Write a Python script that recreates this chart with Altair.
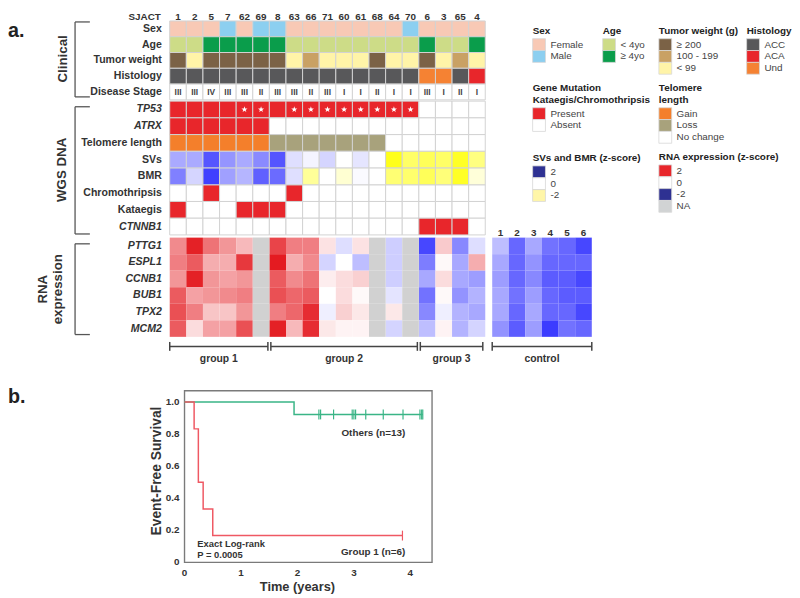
import altair as alt
import pandas as pd

# ===================== data =====================
samples = ["1", "2", "5", "7", "62", "69", "8", "63", "66", "71", "60", "61", "68", "64", "70", "6", "3", "65", "4"]
controls = ["1", "2", "3", "4", "5", "6"]

sex = ["Female", "Female", "Female", "Male", "Female", "Male", "Male", "Female", "Female", "Female",
       "Female", "Female", "Female", "Female", "Male", "Female", "Female", "Female", "Female"]
age = ["< 4yo", "< 4yo", "≥ 4yo", "≥ 4yo", "≥ 4yo", "≥ 4yo", "≥ 4yo", "< 4yo", "< 4yo", "< 4yo",
       "< 4yo", "< 4yo", "< 4yo", "< 4yo", "< 4yo", "≥ 4yo", "< 4yo", "< 4yo", "≥ 4yo"]
tumor_weight = ["≥ 200", "< 99", "≥ 200", "≥ 200", "≥ 200", "≥ 200", "≥ 200", "< 99", "100 - 199", "< 99",
                "< 99", "< 99", "≥ 200", "< 99", "< 99", "≥ 200", "< 99", "100 - 199", "< 99"]
histology = ["ACC", "ACC", "ACC", "ACC", "ACC", "ACC", "ACC", "ACC", "ACC", "ACC",
             "ACC", "ACC", "ACC", "ACC", "ACC", "Und", "Und", "ACC", "ACA"]
disease_stage = ["III", "III", "IV", "III", "III", "II", "III", "III", "II", "III",
                 "I", "I", "II", "I", "I", "III", "I", "II", "I"]

tp53 = [1, 1, 1, 1, 1, 1, 1, 1, 1, 1, 1, 1, 1, 1, 1, 0, 0, 0, 0]
tp53_star = [0, 0, 0, 0, 1, 1, 0, 1, 1, 1, 1, 1, 1, 1, 1, 0, 0, 0, 0]
atrx = [1, 1, 1, 1, 1, 1, 0, 0, 0, 0, 0, 0, 0, 0, 0, 0, 0, 0, 0]
telomere = ["Gain", "Gain", "Gain", "Gain", "Gain", "Gain", "Loss", "Loss", "Loss", "Loss",
            "Loss", "Loss", "Loss", "No change", "No change", "No change", "No change", "No change", "No change"]
svs_z = [0.8, 0.8, 1.6, 1.0, 0.8, 1.1, 1.6, 0.3, 0.1, 0.4, 0.0, 0.25, 0.0, -1.8, -1.2, -1.3, -1.2, -1.7, -1.0]
bmr_z = [1.2, 0.4, 1.8, 0.9, 0.7, 1.5, 1.4, 0.3, -0.8, 0.0, -0.35, 0.05, 0.0, -1.1, -1.15, -1.3, -1.05, -1.7, -0.3]
chromothripsis = [0, 0, 1, 0, 0, 0, 0, 1, 0, 0, 0, 0, 0, 0, 0, 0, 0, 0, 0]
kataegis = [1, 0, 0, 0, 1, 1, 1, 0, 0, 0, 0, 0, 0, 0, 0, 0, 0, 0, 0]
ctnnb1 = [0, 0, 0, 0, 0, 0, 0, 0, 0, 0, 0, 0, 0, 0, 0, 1, 1, 1, 0]

rna_genes = ["PTTG1", "ESPL1", "CCNB1", "BUB1", "TPX2", "MCM2"]
rna_PTTG1 = [1.0, 1.9, 1.2, 0.9, 0.6, None, 1.6, 1.1, 1.1, 0.25, -0.3, 0.25, None, -0.45, None, -1.7, 0.45, -1.1, -0.3]
rna_ESPL1 = [1.1, 1.4, 0.7, 0.7, 1.7, None, 1.95, 0.7, 1.0, -0.4, 0.0, -0.6, None, -0.45, None, -1.2, 0.05, -0.8, 0.7]
rna_CCNB1 = [0.9, 1.9, 0.9, 0.8, 0.9, None, 1.4, 1.0, 1.2, 0.15, 0.3, 0.4, None, -0.45, None, -0.8, 0.3, -0.8, -0.9]
rna_BUB1 = [1.4, 0.8, 0.9, 1.0, 1.1, None, 1.5, 1.3, 1.4, 0.0, 0.3, 0.05, None, -0.25, None, -1.3, 0.05, -1.0, -0.7]
rna_TPX2 = [1.5, 1.1, 0.5, 0.5, 0.9, None, 1.1, 1.3, 1.8, -0.15, 0.4, 0.2, None, 0.2, None, -1.1, -0.15, -0.7, -0.8]
rna_MCM2 = [1.4, 0.3, 0.8, 0.8, 1.5, None, 1.9, 0.6, 1.8, 0.2, 0.1, 0.1, None, -0.4, None, -0.6, 0.1, -0.7, -0.4]
ctrl_PTTG1 = [-0.6, -1.4, -0.8, -1.3, -1.4, -1.7]
ctrl_ESPL1 = [-0.8, -1.4, -1.0, -1.4, -1.4, -1.4]
ctrl_CCNB1 = [-0.9, -1.4, -1.1, -1.5, -1.5, -1.7]
ctrl_BUB1 = [-0.8, -1.3, -0.9, -1.4, -1.5, -1.5]
ctrl_TPX2 = [-0.8, -1.4, -0.8, -1.4, -1.4, -1.7]
ctrl_MCM2 = [-1.0, -1.5, -0.9, -1.8, -1.3, -1.4]

group_names = ["group 1", "group 2", "group 3"]
group_sizes = [6, 9, 4]

# Kaplan-Meier (years, event-free survival)
km_group1_t = [0.0, 0.17, 0.245, 0.33, 0.5, 3.86]
km_group1_s = [1.0, 0.833, 0.5, 0.333, 0.167, 0.167]
km_others_t = [0.0, 1.94, 4.22]
km_others_s = [1.0, 0.923, 0.923]
censor_others_t = [2.38, 2.41, 2.64, 2.97, 3.0, 3.03, 3.21, 3.52, 3.87, 4.17, 4.2, 4.22]
censor_group1_t = [3.86]
km_x_ticks = [0, 1, 2, 3, 4]
km_y_ticks = [0, 0.2, 0.4, 0.6, 0.8, 1.0]
km_y_labels = ["0", "0.2", "0.4", "0.6", "0.8", "1.0"]

# ===================== styles =====================
FONT = "Liberation Sans, Arial, Helvetica, sans-serif"
TXT = "#333333"
RED = "#e8262b"
NAVY = "#2e3192"
cat_domain = ["Female", "Male", "< 4yo", "≥ 4yo", "≥ 200", "100 - 199", "< 99", "ACC", "ACA", "Und",
              "Present", "Absent", "Gain", "Loss", "No change", "NA", "blank"]
cat_range = ["#f8c9b5", "#8ccff0", "#cddc87", "#0a9d4b", "#7b6246", "#c9a164", "#fff4a8", "#58585a", RED, "#f58233",
             RED, "#ffffff", "#f47f2b", "#a8a27c", "#ffffff", "#d1d1d1", "#ffffff"]
cat_color = dict(zip(cat_domain, cat_range))

# ===================== layout (page pixels) =====================
M = 8
W = 784
H_TOP = 372
H_BOT = 210
COL0, CW = 172.0, 16.84
CTRL0, CCW = 499.0, 16.83
CLIN_TOP, CLIN_H = 17.0, 16.0
WGS_TOP, WGS_H = 98.3, 16.96
RNA_TOP, RNA_H = 236.7, 16.77
LABEL_RIGHT = 164


def cx(p):
    return p - M


def cy(p):
    return p - M


xs = alt.Scale(domain=[0, W], nice=False, zero=False)
ys = alt.Scale(domain=[0, H_TOP], nice=False, zero=False, reverse=True)


def X(f="x"):
    return alt.X(f"{f}:Q", scale=xs, axis=None)


def Y(f="y"):
    return alt.Y(f"{f}:Q", scale=ys, axis=None)


def col_l(i):
    return COL0 + i * CW


def ctrl_l(j):
    return CTRL0 + j * CCW


cat_cells, z_cells, rna_cells, stage_txt, stars = [], [], [], [], []


def cell(i, top, h, **kw):
    d = dict(x=cx(col_l(i)), x2=cx(col_l(i + 1)), y=cy(top), y2=cy(top + h))
    d.update(kw)
    return d


clin_rows = [sex, age, tumor_weight, histology]
for r, vals in enumerate(clin_rows):
    for i, v in enumerate(vals):
        cat_cells.append(cell(i, CLIN_TOP + r * CLIN_H, CLIN_H, key=v))
for i, v in enumerate(disease_stage):
    top = CLIN_TOP + 4 * CLIN_H
    cat_cells.append(cell(i, top, CLIN_H, key="blank"))
    stage_txt.append(dict(x=cx(col_l(i) + CW / 2), y=cy(top + CLIN_H / 2), t=v))

wgs_rows = [("bin", tp53), ("bin", atrx), ("cat", telomere), ("z", svs_z), ("z", bmr_z),
            ("bin", chromothripsis), ("bin", kataegis), ("bin", ctnnb1)]
for r, (kind, vals) in enumerate(wgs_rows):
    top = WGS_TOP + r * WGS_H
    for i, v in enumerate(vals):
        if kind == "bin":
            cat_cells.append(cell(i, top, WGS_H, key="Present" if v else "Absent"))
        elif kind == "cat":
            cat_cells.append(cell(i, top, WGS_H, key=v))
        else:
            z_cells.append(cell(i, top, WGS_H, z=v))
for i, s in enumerate(tp53_star):
    if s:
        stars.append(dict(x=cx(col_l(i) + CW / 2), y=cy(WGS_TOP + WGS_H / 2)))

rna_sample_rows = [rna_PTTG1, rna_ESPL1, rna_CCNB1, rna_BUB1, rna_TPX2, rna_MCM2]
rna_ctrl_rows = [ctrl_PTTG1, ctrl_ESPL1, ctrl_CCNB1, ctrl_BUB1, ctrl_TPX2, ctrl_MCM2]
for r, vals in enumerate(rna_sample_rows):
    top = RNA_TOP + r * RNA_H
    for i, v in enumerate(vals):
        if v is None:
            cat_cells.append(cell(i, top, RNA_H, key="NA"))
        else:
            rna_cells.append(cell(i, top, RNA_H, z=v))
for r, vals in enumerate(rna_ctrl_rows):
    top = RNA_TOP + r * RNA_H
    for j, v in enumerate(vals):
        rna_cells.append(dict(x=cx(ctrl_l(j)), x2=cx(ctrl_l(j + 1)), y=cy(top), y2=cy(top + RNA_H), z=v))

na_cells = [c for c in cat_cells if c["key"] == "NA"]
grid_cells = [c for c in cat_cells if c["key"] != "NA"]

# ---------- row labels ----------
row_labels = []
for r, lab in enumerate(["Sex", "Age", "Tumor weight", "Histology", "Disease Stage"]):
    row_labels.append(dict(x=cx(LABEL_RIGHT), y=cy(CLIN_TOP + (r + 0.5) * CLIN_H), t=lab, it=False))
for r, (lab, it) in enumerate([("TP53", True), ("ATRX", True), ("Telomere length", False), ("SVs", False),
                               ("BMR", False), ("Chromothripsis", False), ("Kataegis", False), ("CTNNB1", True)]):
    row_labels.append(dict(x=cx(LABEL_RIGHT), y=cy(WGS_TOP + (r + 0.5) * WGS_H), t=lab, it=it))
for r, lab in enumerate(rna_genes):
    row_labels.append(dict(x=cx(LABEL_RIGHT), y=cy(RNA_TOP + (r + 0.5) * RNA_H), t=lab, it=True))
lab_df = pd.DataFrame(row_labels)

# ---------- headers ----------
HEAD_Y = 16.0
head = [dict(x=cx(LABEL_RIGHT - 1), y=cy(HEAD_Y), t="SJACT", a="right")]
for i, s in enumerate(samples):
    head.append(dict(x=cx(col_l(i) + CW / 2), y=cy(HEAD_Y), t=s, a="center"))
ctrl_head = [dict(x=cx(ctrl_l(j) + CCW / 2), y=cy(235.0), t=c) for j, c in enumerate(controls)]

# ---------- brackets & section labels ----------
BR_X, BR_X2 = 76, 91
brackets = [(CLIN_TOP + 1, 94), (104, 233), (243, 335)]
br_rules = []
for t0, t1 in brackets:
    br_rules.append(dict(x=cx(BR_X), x2=cx(BR_X), y=cy(t0), y2=cy(t1)))
    br_rules.append(dict(x=cx(BR_X), x2=cx(BR_X2), y=cy(t0), y2=cy(t0)))
    br_rules.append(dict(x=cx(BR_X), x2=cx(BR_X2), y=cy(t1), y2=cy(t1)))
sect = [dict(x=cx(64), y=cy(55.5), t="Clinical"), dict(x=cx(63), y=cy(168), t="WGS DNA"),
        dict(x=cx(44), y=cy(289), t="RNA"), dict(x=cx(58.5), y=cy(289), t="expression")]

# ---------- group bars ----------
GB_Y, CAP = 347.0, 4.5
gb = []
gl = []
start = 0
spans = []
for name, n in zip(group_names, group_sizes):
    a = col_l(start) + (0 if start == 0 else 1.5)
    b = col_l(start + n) - (2.5 if start + n == len(samples) else 1.5)
    spans.append((name, a, b))
    start += n
spans.append(("control", ctrl_l(0), ctrl_l(len(controls))))
for name, a, b in spans:
    gb.append(dict(x=cx(a), x2=cx(b), y=cy(GB_Y), y2=cy(GB_Y)))
    gb.append(dict(x=cx(a), x2=cx(a), y=cy(GB_Y - CAP), y2=cy(GB_Y + CAP)))
    gb.append(dict(x=cx(b), x2=cx(b), y=cy(GB_Y - CAP), y2=cy(GB_Y + CAP)))
    gl.append(dict(x=cx((a + b) / 2), y=cy(359.5), t=name))

# ---------- legends ----------
legend_specs = [
    (["Sex"], 540, 27, [("Female", cat_color["Female"]), ("Male", cat_color["Male"])]),
    (["Age"], 611, 27, [("< 4yo", cat_color["< 4yo"]), ("≥ 4yo", cat_color["≥ 4yo"])]),
    (["Tumor weight (g)"], 668, 27, [("≥ 200", cat_color["≥ 200"]), ("100 - 199", cat_color["100 - 199"]),
                                    ("< 99", cat_color["< 99"])]),
    (["Histology"], 757, 27, [("ACC", cat_color["ACC"]), ("ACA", cat_color["ACA"]), ("Und", cat_color["Und"])]),
    (["Gene Mutation", "Kataegis/Chromothripsis"], 540, 85, [("Present", RED), ("Absent", "#ffffff")]),
    (["Telomere", " length"], 668, 85, [("Gain", cat_color["Gain"]), ("Loss", cat_color["Loss"]),
                                        ("No change", "#ffffff")]),
    (["SVs and BMR (z-score)"], 540, 156, [("2", NAVY), ("0", "#ffffff"), ("-2", "#fff6a8")]),
    (["RNA expression (z-score)"], 668, 155, [("2", RED), ("0", "#ffffff"), ("-2", NAVY), ("NA", "#d1d3d4")]),
]
leg_sw, leg_title, leg_item = [], [], []
SW_W, SW_H = 13, 12
for titles, x0, y0, items in legend_specs:
    for k, t in enumerate(titles):
        leg_title.append(dict(x=cx(x0), y=cy(y0 + k * 12), t=t))
    top = y0 + (len(titles) - 1) * 12 + 8
    for j, (lab, col) in enumerate(items):
        leg_sw.append(dict(x=cx(x0), x2=cx(x0 + SW_W), y=cy(top + j * SW_H), y2=cy(top + (j + 1) * SW_H), c=col))
        leg_item.append(dict(x=cx(x0 + 18), y=cy(top + j * SW_H + SW_H / 2), t=lab))

STAR = "M0,-1L0.236,-0.324L0.951,-0.309L0.382,0.124L0.588,0.809L0,0.4L-0.588,0.809L-0.382,0.124L-0.951,-0.309L-0.236,-0.324Z"


def rect_enc(ch):
    return ch.encode(x=X("x"), x2=alt.X2("x2:Q"), y=Y("y"), y2=alt.Y2("y2:Q"))


layers = []
layers.append(rect_enc(alt.Chart(pd.DataFrame(grid_cells)).mark_rect(stroke="#d2d2d2", strokeWidth=1))
              .encode(color=alt.Color("key:N", scale=alt.Scale(domain=cat_domain, range=cat_range), legend=None)))
layers.append(rect_enc(alt.Chart(pd.DataFrame(z_cells)).mark_rect(stroke="#d2d2d2", strokeWidth=1))
              .encode(color=alt.Color("z:Q", scale=alt.Scale(domain=[-2, 0, 2], range=["#ffff00", "#ffffff", "#2b2bff"],
                                                             interpolate="rgb", clamp=True), legend=None)))
layers.append(rect_enc(alt.Chart(pd.DataFrame(rna_cells)).mark_rect())
              .encode(color=alt.Color("z:Q", scale=alt.Scale(domain=[-2, 0, 2], range=["#2626ff", "#ffffff", "#e3151b"],
                                                             interpolate="rgb", clamp=True), legend=None)))
layers.append(rect_enc(alt.Chart(pd.DataFrame(na_cells)).mark_rect(color="#d1d1d1")))
layers.append(alt.Chart(pd.DataFrame(stage_txt)).mark_text(font=FONT, fontSize=8.5, fontWeight="bold", color="#444")
              .encode(x=X(), y=Y(), text="t:N"))
layers.append(alt.Chart(pd.DataFrame(stars)).mark_point(shape=STAR, filled=True, color="#ffffff", opacity=1, size=42)
              .encode(x=X(), y=Y()))
layers.append(alt.Chart(lab_df[~lab_df["it"]]).mark_text(font=FONT, fontSize=10.7, fontWeight="bold", color=TXT,
                                                         align="right", baseline="middle")
              .encode(x=X(), y=Y(), text="t:N"))
layers.append(alt.Chart(lab_df[lab_df["it"]]).mark_text(font=FONT, fontSize=10.7, fontWeight="bold", fontStyle="italic",
                                                        color=TXT, align="right", baseline="middle")
              .encode(x=X(), y=Y(), text="t:N"))
hd = pd.DataFrame(head)
layers.append(alt.Chart(hd[hd["a"] == "right"]).mark_text(font=FONT, fontSize=10, fontWeight="bold", color=TXT,
                                                          align="right", baseline="alphabetic")
              .encode(x=X(), y=Y(), text="t:N"))
layers.append(alt.Chart(hd[hd["a"] == "center"]).mark_text(font=FONT, fontSize=10, fontWeight="bold", color=TXT,
                                                           align="center", baseline="alphabetic")
              .encode(x=X(), y=Y(), text="t:N"))
layers.append(alt.Chart(pd.DataFrame(ctrl_head)).mark_text(font=FONT, fontSize=10, fontWeight="bold", color=TXT,
                                                           align="center", baseline="alphabetic")
              .encode(x=X(), y=Y(), text="t:N"))
layers.append(alt.Chart(pd.DataFrame(br_rules)).mark_rule(color="#555555", strokeWidth=1.3)
              .encode(x=X(), x2=alt.X2("x2:Q"), y=Y(), y2=alt.Y2("y2:Q")))
layers.append(alt.Chart(pd.DataFrame(sect)).mark_text(font=FONT, fontSize=13.5, fontWeight="bold", color=TXT,
                                                      angle=270, align="center", baseline="middle")
              .encode(x=X(), y=Y(), text="t:N"))
layers.append(alt.Chart(pd.DataFrame(gb)).mark_rule(color="#444444", strokeWidth=1.5)
              .encode(x=X(), x2=alt.X2("x2:Q"), y=Y(), y2=alt.Y2("y2:Q")))
layers.append(alt.Chart(pd.DataFrame(gl)).mark_text(font=FONT, fontSize=10.5, fontWeight="bold", color=TXT,
                                                    align="center", baseline="middle")
              .encode(x=X(), y=Y(), text="t:N"))
layers.append(rect_enc(alt.Chart(pd.DataFrame(leg_sw)).mark_rect(stroke="#d8d8d8", strokeWidth=0.8))
              .encode(color=alt.Color("c:N", scale=None, legend=None)))
layers.append(alt.Chart(pd.DataFrame(leg_title)).mark_text(font=FONT, fontSize=10, fontWeight="bold", color="#222",
                                                           align="left", baseline="middle")
              .encode(x=X(), y=Y(), text="t:N"))
layers.append(alt.Chart(pd.DataFrame(leg_item)).mark_text(font=FONT, fontSize=10, color="#444", align="left",
                                                          baseline="middle")
              .encode(x=X(), y=Y(), text="t:N"))
layers.append(alt.Chart(pd.DataFrame([dict(x=0, y=cy(27), t="a.")])).mark_text(
    font=FONT, fontSize=20, fontWeight="bold", color="#222", align="left", baseline="middle")
              .encode(x=X(), y=Y(), text="t:N"))

top_chart = alt.layer(*layers).resolve_scale(color="independent").properties(width=W, height=H_TOP)

# ===================== KM panel =====================
KM_X0, KM_PX_PER_YR = 187.0, 57.25      # page x of t=0, px per year
KM_Y0, KM_PX_PER_UNIT = 566.0, 162.5    # page y of s=0, px per unit survival
BOT_TOP = M + H_TOP
t_min = (M - KM_X0) / KM_PX_PER_YR
t_max = (M + W - KM_X0) / KM_PX_PER_YR
s_min = (KM_Y0 - (BOT_TOP + H_BOT)) / KM_PX_PER_UNIT
s_max = (KM_Y0 - BOT_TOP) / KM_PX_PER_UNIT
kxs = alt.Scale(domain=[t_min, t_max], nice=False, zero=False)
kys = alt.Scale(domain=[s_min, s_max], nice=False, zero=False)


def KX(f="t"):
    return alt.X(f"{f}:Q", scale=kxs, axis=None)


def KY(f="s"):
    return alt.Y(f"{f}:Q", scale=kys, axis=None)


GREEN = "#3ab586"
KRED = "#ef5863"
gcol = alt.Color("g:N", scale=alt.Scale(domain=["others", "group1"], range=[GREEN, KRED]), legend=None)

frame_t1 = (438 - KM_X0) / KM_PX_PER_YR
frame_s1 = (KM_Y0 - 392) / KM_PX_PER_UNIT
km_layers = []
km_layers.append(alt.Chart(pd.DataFrame([dict(t=0, t2=frame_t1, s=0, s2=frame_s1)]))
                 .mark_rect(fillOpacity=0, stroke="#7a7a7a", strokeWidth=1.4)
                 .encode(x=KX("t"), x2=alt.X2("t2:Q"), y=KY("s"), y2=alt.Y2("s2:Q")))
curve = pd.concat([pd.DataFrame(dict(t=km_others_t, s=km_others_s, g="others")),
                   pd.DataFrame(dict(t=km_group1_t, s=km_group1_s, g="group1"))])
km_layers.append(alt.Chart(curve).mark_line(interpolate="step-after", strokeWidth=1.5)
                 .encode(x=KX(), y=KY(), color=gcol, detail="g:N"))
cens = pd.concat([pd.DataFrame(dict(t=censor_others_t, s=km_others_s[-1], g="others")),
                  pd.DataFrame(dict(t=censor_group1_t, s=km_group1_s[-1], g="group1"))])
km_layers.append(alt.Chart(cens).mark_point(shape="M0,-1L0,1", filled=False, strokeWidth=1.2, size=100, opacity=1)
                 .encode(x=KX(), y=KY(), color=gcol))
ytick_df = pd.DataFrame(dict(t=0, s=km_y_ticks, lab=km_y_labels))
km_layers.append(alt.Chart(ytick_df).mark_text(font=FONT, fontSize=10, fontWeight="bold", color=TXT,
                                               align="right", baseline="middle", dx=-5)
                 .encode(x=KX(), y=KY(), text="lab:N"))
xtick_df = pd.DataFrame(dict(t=km_x_ticks, s=0, lab=[str(v) for v in km_x_ticks]))
km_layers.append(alt.Chart(xtick_df).mark_text(font=FONT, fontSize=10, fontWeight="bold", color=TXT,
                                               align="center", baseline="middle", dy=11)
                 .encode(x=KX(), y=KY(), text="lab:N"))
km_layers.append(alt.Chart(pd.DataFrame([dict(t=2.0, s=0, lab="Time (years)")]))
                 .mark_text(font=FONT, fontSize=13, fontWeight="bold", color=TXT, align="center",
                            baseline="middle", dy=25)
                 .encode(x=KX(), y=KY(), text="lab:N"))
km_layers.append(alt.Chart(pd.DataFrame([dict(t=(159 - KM_X0) / KM_PX_PER_YR, s=0.57, lab="Event-Free Survival")]))
                 .mark_text(font=FONT, fontSize=14, fontWeight="bold", color=TXT, align="center",
                            baseline="middle", angle=270)
                 .encode(x=KX(), y=KY(), text="lab:N"))
ann = pd.DataFrame([
    dict(t=3.345, s=0.806, lab="Others (n=13)"),
    dict(t=3.34, s=0.0615, lab="Group 1 (n=6)"),
])
km_layers.append(alt.Chart(ann).mark_text(font=FONT, fontSize=10, fontWeight="bold", color=TXT,
                                          align="center", baseline="middle")
                 .encode(x=KX(), y=KY(), text="lab:N"))
ann2 = pd.DataFrame([
    dict(t=0.227, s=0.114, lab="Exact Log-rank"),
    dict(t=0.227, s=0.046, lab="P = 0.0005"),
])
km_layers.append(alt.Chart(ann2).mark_text(font=FONT, fontSize=9.5, fontWeight="bold", color=TXT,
                                           align="left", baseline="middle")
                 .encode(x=KX(), y=KY(), text="lab:N"))
km_layers.append(alt.Chart(pd.DataFrame([dict(t=t_min, s=(KM_Y0 - 398) / KM_PX_PER_UNIT, lab="b.")]))
                 .mark_text(font=FONT, fontSize=20, fontWeight="bold", color="#222", align="left", baseline="middle")
                 .encode(x=KX(), y=KY(), text="lab:N"))

bot_chart = alt.layer(*km_layers).properties(width=W, height=H_BOT)

chart = alt.vconcat(top_chart, bot_chart, spacing=0, padding=0).configure_view(stroke=None)
chart.save("out.html", embed_options={"renderer": "svg", "actions": False})
